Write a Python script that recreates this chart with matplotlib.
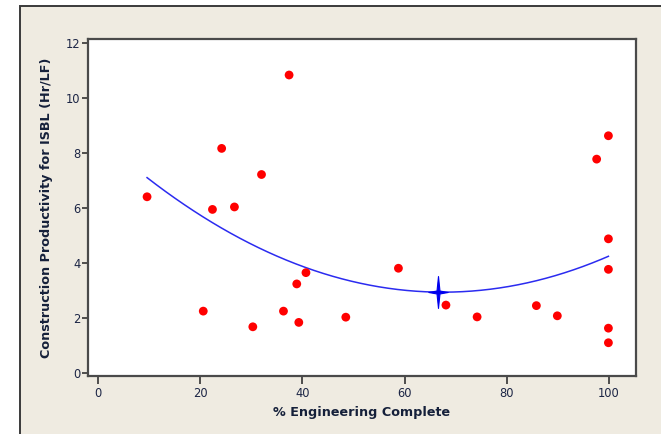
import numpy as np
import matplotlib
matplotlib.use("Agg")
import matplotlib.pyplot as plt
from matplotlib.path import Path
from matplotlib.patches import Rectangle

# % engineering complete vs. construction productivity (Hr/LF)
eng_complete = [9.6, 20.6, 22.4, 24.2, 26.7, 30.3, 32.0, 36.3, 37.4, 38.9,
                39.3, 40.7, 48.5, 58.8, 68.1, 74.2, 85.8, 89.9, 97.6, 99.9,
                99.9, 99.9, 99.9, 99.9]
productivity = [6.41, 2.25, 5.95, 8.17, 6.04, 1.68, 7.22, 2.25, 10.84, 3.24,
                1.84, 3.65, 2.03, 3.81, 2.47, 2.04, 2.45, 2.08, 7.78, 8.63,
                4.88, 3.77, 1.63, 1.10]

# quadratic trend: y = c2*x^2 + c1*x + c0
trend_coef = [0.001243, -0.1678, 8.603]

# highlighted point on the trend
marker_x = [66.6]
marker_y = [2.93]

x_ticks = [0, 20, 40, 60, 80, 100]
y_ticks = [0, 2, 4, 6, 8, 10, 12]

W, H = 661, 434
fig = plt.figure(figsize=(W / 100, H / 100), dpi=100)
fig.patch.set_facecolor("white")

# beige panel with dark frame (open towards right and bottom)
panel = Rectangle((19.5 / W, -0.2), 1.2, 1.2 - 5.5 / H,
                  transform=fig.transFigure, facecolor="#efebe1",
                  edgecolor="#3a3a3a", linewidth=1.4, zorder=-5)
fig.patches.append(panel)

ax = fig.add_axes([88 / W, 1 - 376 / H, (636 - 88) / W, (376 - 39) / H])
ax.set_zorder(2)
ax.set_facecolor("white")
ax.set_xlim(-1.96, 105.3)
ax.set_ylim(-0.11, 12.15)

for side, sp in ax.spines.items():
    sp.set_color("#4a4a4a")
    sp.set_linewidth(1.6)

ax.set_xticks(x_ticks)
ax.set_yticks(y_ticks)
tick_color = "#1c2545"
ax.tick_params(axis="x", direction="out", length=6, width=1.2, color="#333333",
               labelsize=8.3, labelcolor=tick_color, pad=2)
ax.tick_params(axis="y", direction="out", length=4, width=1.2, color="#333333",
               labelsize=8.3, labelcolor=tick_color, pad=1.5)

# fitted curve over the data range
xs = np.linspace(min(eng_complete), max(eng_complete), 200)
ax.plot(xs, np.polyval(trend_coef, xs), color="#2b2bf0", linewidth=1.1,
        zorder=2)

# four-point star marker
w = 0.13
star = Path([(0, 1.4), (w, w), (0.85, 0), (w, -w), (0, -1.4), (-w, -w),
             (-0.85, 0), (-w, w), (0, 1.4)],
            [Path.MOVETO] + [Path.LINETO] * 7 + [Path.CLOSEPOLY])
ax.plot(marker_x, marker_y, marker=star, markersize=23, color="#0000ee",
        markeredgewidth=0.8, linestyle="none", zorder=3)

ax.scatter(eng_complete, productivity, s=40, color="#ff0000", edgecolors="none",
           zorder=4)

ax.set_xlabel("% Engineering Complete", fontsize=9.2, fontweight="bold",
              color="#15203a", labelpad=4.5)
ax.set_ylabel("Construction Productivity for ISBL (Hr/LF)", fontsize=9.2,
              fontweight="bold", color="#15203a", labelpad=9.5)

fig.savefig("out.png", dpi=100)
